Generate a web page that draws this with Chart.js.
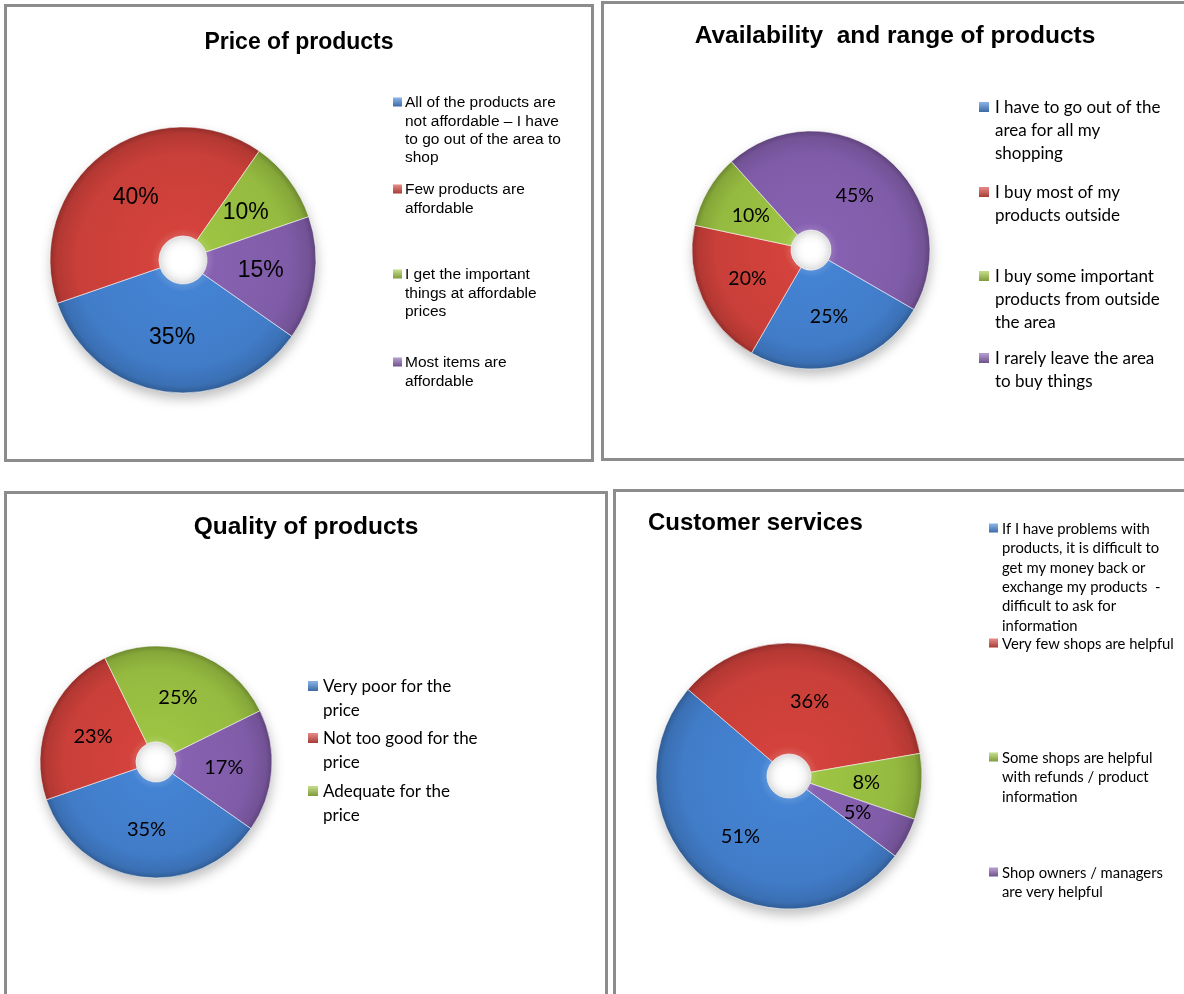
<!DOCTYPE html>
<html>
<head>
<meta charset="utf-8">
<script src="https://cdn.jsdelivr.net/npm/chart.js@4.4.1/dist/chart.umd.min.js"></script>
<style>
html, body { margin: 0; padding: 0; background: #fff; width: 1184px; height: 994px; overflow: hidden; position: relative; }
.panel { position: absolute; }
.panel canvas { position: absolute; left: 0; top: 0; }
.frame { position: absolute; left: 0; top: 0; right: 0; bottom: 0; border: 3px solid #8c8c8c; box-sizing: border-box; pointer-events: none; }
</style>
</head>
<body>
<div class="panel" style="left:4px;top:4px;width:590px;height:458px"><canvas id="c1" width="590" height="458"></canvas><div class="frame"></div></div>
<div class="panel" style="left:601px;top:1px;width:590px;height:460px"><canvas id="c2" width="590" height="460"></canvas><div class="frame"></div></div>
<div class="panel" style="left:4px;top:491px;width:604px;height:510px"><canvas id="c3" width="604" height="510"></canvas><div class="frame"></div></div>
<div class="panel" style="left:613px;top:489px;width:580px;height:510px"><canvas id="c4" width="580" height="510"></canvas><div class="frame"></div></div>
<script>
// slice colours: blue, red, green, purple
const sliceColors = ['#4483d3', '#d4423c', '#9dc443', '#8761b1'];

const priceLabels = [
	['All of the products are', 'not affordable \u2013 I have', 'to go out of the area to', 'shop'],
	['Few products are', 'affordable'],
	['I get the important', 'things at affordable', 'prices'],
	['Most items are', 'affordable']
];
const priceValues = [35, 40, 10, 15];

const availLabels = [
	['I have to go out of the', 'area for all my', 'shopping'],
	['I buy most of my', 'products outside'],
	['I buy some important', 'products from outside', 'the area'],
	['I rarely leave the area', 'to buy things']
];
const availValues = [25, 20, 10, 45];

// the fourth (purple) slice has no legend entry in the original
const qualityLabels = [
	['Very poor for the', 'price'],
	['Not too good for the', 'price'],
	['Adequate for the', 'price']
];
const qualityValues = [35, 23, 25, 17];

const serviceLabels = [
	['If I have problems with', 'products, it is difficult to', 'get my money back or', 'exchange my products  -', 'difficult to ask for', 'information'],
	['Very few shops are helpful'],
	['Some shops are helpful', 'with refunds / product', 'information'],
	['Shop owners / managers', 'are very helpful']
];
const serviceValues = [51, 36, 8, 5];

function shade(hex, amt) {
	const n = parseInt(hex.slice(1), 16);
	let r = (n >> 16) & 255, g = (n >> 8) & 255, b = n & 255;
	const f = v => Math.max(0, Math.min(255, Math.round(amt > 0 ? v + (255 - v) * amt : v * (1 + amt))));
	return `rgb(${f(r)},${f(g)},${f(b)})`;
}

const panels = [
	{
		id: 'c1', title: 'Price of products', titleFont: 'bold 23px "Liberation Sans", Arial', titleAlign: 'center', titleX: 295, titleY: 39,
		labels: priceLabels, values: priceValues, rotation: 125, cx: 179, cy: 256, r: 133, hole: 24,
		valueFont: '23px "Liberation Sans", Arial',
		legend: { boxX: 389, textX: 401, box: 9, font: '15.5px "Liberation Sans", Arial', lineH: 18.3, tops: [99, 186, 271, 359] }
	},
	{
		id: 'c2', title: 'Availability  and range of products', titleFont: 'bold 24.5px "Liberation Sans", Arial', titleAlign: 'center', titleX: 294, titleY: 35,
		labels: availLabels, values: availValues, rotation: 120, cx: 210, cy: 249, r: 119, hole: 20,
		valueFont: '19.5px Lato',
		legend: { boxX: 378, textX: 394, box: 10, font: '17px Lato', lineH: 22.8, tops: [107, 192, 276, 358] }
	},
	{
		id: 'c3', title: 'Quality of products', titleFont: 'bold 24.5px "Liberation Sans", Arial', titleAlign: 'center', titleX: 302, titleY: 36,
		labels: qualityLabels, values: qualityValues, rotation: 125, cx: 152, cy: 271, r: 116, hole: 20,
		valueFont: '20px Lato',
		legend: { boxX: 304, textX: 319, box: 10, font: '17px Lato', lineH: 23.3, tops: [196, 248, 301] }
	},
	{
		id: 'c4', title: 'Customer services', titleFont: 'bold 24px "Liberation Sans", Arial', titleAlign: 'left', titleX: 35, titleY: 34,
		labels: serviceLabels, values: serviceValues, rotation: 127, cx: 176, cy: 287, r: 133, hole: 22,
		valueFont: '20px Lato',
		legend: { boxX: 376, textX: 389, box: 9, font: '14.8px Lato', lineH: 19.4, tops: [40, 155, 269, 384] }
	}
];

const panelText = {
	id: 'panelText',
	beforeDatasetsDraw(chart) {
		const p = chart.options.plugins.panelText.panel;
		const ctx = chart.ctx;
		ctx.save();
		ctx.filter = 'blur(6px)';
		ctx.fillStyle = 'rgba(0,0,0,0.25)';
		ctx.beginPath();
		ctx.arc(p.cx + 1, p.cy + 6, p.r, 0, Math.PI * 2);
		ctx.arc(p.cx, p.cy, p.hole, 0, Math.PI * 2, true);
		ctx.fill('evenodd');
		ctx.restore();
	},
	afterDatasetsDraw(chart) {
		const p = chart.options.plugins.panelText.panel;
		const ctx = chart.ctx;
		ctx.save();
		ctx.fillStyle = '#000';
		ctx.textBaseline = 'middle';

		// percentages inside the slices
		ctx.font = p.valueFont;
		ctx.textAlign = 'center';
		chart.getDatasetMeta(0).data.forEach((arc, i) => {
			const pos = arc.tooltipPosition();
			ctx.fillText(p.values[i] + '%', pos.x, pos.y);
		});

		// title
		ctx.font = p.titleFont;
		ctx.textAlign = p.titleAlign;
		ctx.fillText(p.title, p.titleX, p.titleY);

		// legend
		const lg = p.legend;
		ctx.textAlign = 'left';
		ctx.font = lg.font;
		p.labels.forEach((lines, i) => {
			const top = lg.tops[i];
			const col = sliceColors[i];
			const g = ctx.createLinearGradient(0, top - lg.box / 2, 0, top + lg.box / 2);
			g.addColorStop(0, shade(col, 0.35));
			g.addColorStop(1, shade(col, -0.25));
			ctx.fillStyle = g;
			ctx.fillRect(lg.boxX, top - lg.box / 2 - 1, lg.box, lg.box);
			ctx.fillStyle = '#000';
			lines.forEach((line, k) => ctx.fillText(line, lg.textX, top + k * lg.lineH));
		});
		ctx.restore();
	}
};

function sliceFill(context) {
	const chart = context.chart;
	const p = chart.options.plugins.panelText.panel;
	const base = sliceColors[context.dataIndex % sliceColors.length];
	const g = chart.ctx.createRadialGradient(p.cx, p.cy, 0, p.cx, p.cy, p.r);
	const h = p.hole / p.r;
	g.addColorStop(0, shade(base, 0.12));
	g.addColorStop(h, shade(base, 0.12));
	g.addColorStop(h + 0.06, base);
	g.addColorStop(0.8, shade(base, -0.05));
	g.addColorStop(0.95, shade(base, -0.15));
	g.addColorStop(1, shade(base, -0.3));
	return g;
}

panels.forEach(p => {
	const canvas = document.getElementById(p.id);
	const W = canvas.width, H = canvas.height;
	new Chart(canvas.getContext('2d'), {
		type: 'doughnut',
		data: {
			labels: p.values.map((v, i) => p.labels[i] || ''),
			datasets: [{
				data: p.values,
				backgroundColor: sliceFill,
				borderColor: 'rgba(255,255,255,0.55)',
				borderWidth: 1
			}]
		},
		options: {
			responsive: false,
			devicePixelRatio: 1,
			animation: false,
			events: [],
			rotation: p.rotation,
			radius: p.r,
			cutout: p.hole,
			layout: {
				padding: { left: p.cx - p.r, top: p.cy - p.r, right: W - p.cx - p.r, bottom: H - p.cy - p.r }
			},
			plugins: {
				legend: { display: false },
				title: { display: false },
				tooltip: { enabled: false },
				panelText: { panel: p }
			}
		},
		plugins: [panelText]
	});
});
</script>
</body>
</html>
